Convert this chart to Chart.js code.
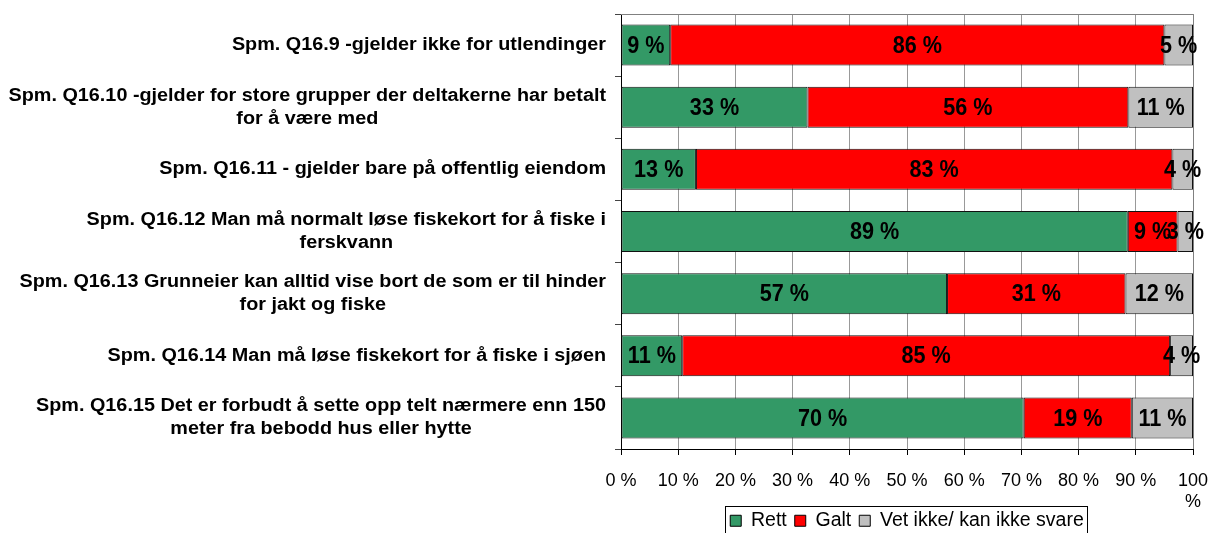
<!DOCTYPE html>
<html><head><meta charset="utf-8">
<script src="https://cdn.jsdelivr.net/npm/chart.js@4"></script>
<style>html,body{margin:0;padding:0;background:#fff;}#wrap{width:1220px;height:533px;}</style>
</head><body><div id="wrap"><canvas id="c" width="1220" height="533"></canvas></div>
<script>
const categories = [
  ['Spm. Q16.9 -gjelder ikke for utlendinger'],
  ['Spm. Q16.10 -gjelder for store grupper der deltakerne har betalt', 'for å være med'],
  ['Spm. Q16.11 - gjelder bare på offentlig eiendom'],
  ['Spm. Q16.12 Man må normalt løse fiskekort for å fiske i', 'ferskvann'],
  ['Spm. Q16.13 Grunneier kan alltid vise bort de som er til hinder', 'for jakt og fiske'],
  ['Spm. Q16.14 Man må løse fiskekort for å fiske i sjøen'],
  ['Spm. Q16.15 Det er forbudt å sette opp telt nærmere enn 150', 'meter fra bebodd hus eller hytte']
];
const seriesNames = ['Rett', 'Galt', 'Vet ikke/ kan ikke svare'];
const rett    = [8.6, 32.6, 13.1, 88.6, 57.0, 10.7, 70.4];
const galt    = [86.4, 56.1, 83.3, 8.7, 31.2, 85.3, 18.9];
const vetIkke = [5.0, 11.3, 3.6, 2.7, 11.8, 4.0, 10.7];
const xTickLabels = ['0 %', '10 %', '20 %', '30 %', '40 %', '50 %', '60 %', '70 %', '80 %', '90 %', ['100', '%']];

const FONT = '"Liberation Sans", Arial, sans-serif';

const yLabelPlugin = {
  id: 'yLabels',
  afterDraw(chart) {
    const ctx = chart.ctx, y = chart.scales.y;
    const sx = 1.1, lh = 23;
    ctx.save();
    ctx.font = 'bold 18px ' + FONT;
    ctx.fillStyle = '#000';
    ctx.textAlign = 'center';
    ctx.textBaseline = 'middle';
    const right = chart.chartArea.left - 15;
    categories.forEach((lines, i) => {
      const cy = y.getPixelForValue(i);
      const w = Math.max(...lines.map(l => ctx.measureText(l).width)) * sx;
      const cx = right - w / 2;
      const y0 = cy - (lines.length - 1) * lh / 2;
      lines.forEach((l, j) => {
        ctx.save();
        ctx.translate(cx, y0 + j * lh);
        ctx.scale(sx, 1);
        ctx.fillText(l, 0, 0);
        ctx.restore();
      });
    });
    ctx.restore();
  }
};

const valuePlugin = {
  id: 'values',
  afterDatasetsDraw(chart) {
    const ctx = chart.ctx;
    const sx = 0.9;
    ctx.save();
    ctx.font = 'bold 24px ' + FONT;
    ctx.fillStyle = '#000';
    ctx.textAlign = 'center';
    ctx.textBaseline = 'middle';
    chart.data.datasets.forEach((ds, di) => {
      chart.getDatasetMeta(di).data.forEach((bar, i) => {
        const p = bar.getProps(['x', 'y', 'base'], true);
        ctx.save();
        ctx.translate((p.x + p.base) / 2, p.y + 1);
        ctx.scale(sx, 1);
        ctx.fillText(Math.round(ds.data[i]) + ' %', 0, 0);
        ctx.restore();
      });
    });
    ctx.restore();
  }
};

const framePlugin = {
  id: 'frame',
  afterLayout(chart) {
    // let the wrapped "100 %" label run below the (shortened) axis box without clipping
    chart.scales.x.bottom = chart.height;
  },
  beforeDatasetsDraw(chart) {
    const a = chart.chartArea, ctx = chart.ctx;
    ctx.save();
    ctx.strokeStyle = '#808080';
    ctx.lineWidth = 1;
    ctx.beginPath();
    ctx.moveTo(a.left, a.top + 0.5);
    ctx.lineTo(a.right + 0.5, a.top + 0.5);
    ctx.lineTo(a.right + 0.5, a.bottom);
    ctx.stroke();
    ctx.restore();
  },
  afterDraw(chart) {
    const lg = chart.legend;
    if (!lg || !lg.legendHitBoxes || !lg.legendHitBoxes.length) return;
    const hb = lg.legendHitBoxes;
    const l = Math.min(...hb.map(h => h.left)) - 5;
    const r = Math.max(...hb.map(h => h.left + h.width)) + 3;
    const t = Math.min(...hb.map(h => h.top)) - 5;
    const b = Math.max(...hb.map(h => h.top + h.height)) + 4;
    const ctx = chart.ctx;
    ctx.save();
    ctx.strokeStyle = '#000';
    ctx.lineWidth = 1;
    ctx.strokeRect(Math.round(l) + 0.5, Math.round(t) + 0.5, Math.round(r - l), Math.round(b - t));
    ctx.restore();
  }
};

const colors = ['#339966', '#FF0000', '#C0C0C0'];
const seriesData = [rett, galt, vetIkke];

new Chart(document.getElementById('c'), {
  type: 'bar',
  data: {
    labels: categories,
    datasets: seriesData.map((d, i) => ({
      label: seriesNames[i],
      data: d,
      backgroundColor: colors[i],
      borderColor: '#111',
      borderWidth: 1,
      borderSkipped: false,
      barPercentage: 0.66,
      categoryPercentage: 1
    }))
  },
  options: {
    indexAxis: 'y',
    responsive: false,
    animation: false,
    devicePixelRatio: 1,
    layout: { padding: { top: 14, left: 615, right: 27, bottom: -7.5 } },
    plugins: {
      tooltip: { enabled: false },
      legend: {
        position: 'bottom',
        fullSize: false,
        labels: {
          color: '#000',
          font: { family: FONT, size: 19.5 },
          boxWidth: 11,
          boxHeight: 11,
          padding: 8,
          generateLabels(chart) {
            return chart.data.datasets.map((ds, i) => ({
              text: ds.label, fillStyle: ds.backgroundColor, strokeStyle: '#000',
              lineWidth: 1, datasetIndex: i, fontColor: '#000'
            }));
          }
        }
      }
    },
    scales: {
      x: {
        stacked: true,
        min: 0, max: 100,
        afterFit: (scale) => { scale.height = 54; scale.paddingRight = 0; },
        ticks: {
          stepSize: 10,
          color: '#000',
          font: { family: FONT, size: 18, lineHeight: 1.2 },
          padding: 15,
          maxRotation: 0,
          autoSkip: false,
          callback: (v, i) => xTickLabels[i]
        },
        grid: { color: '#999', tickColor: '#000', tickLength: 6 },
        border: { color: '#000', width: 1 }
      },
      y: {
        stacked: true,
        ticks: { display: false },
        grid: { drawOnChartArea: false, tickColor: '#444', tickLength: 6, offset: true },
        border: { color: '#000', width: 1 }
      }
    }
  },
  plugins: [yLabelPlugin, valuePlugin, framePlugin]
});
</script></body></html>
